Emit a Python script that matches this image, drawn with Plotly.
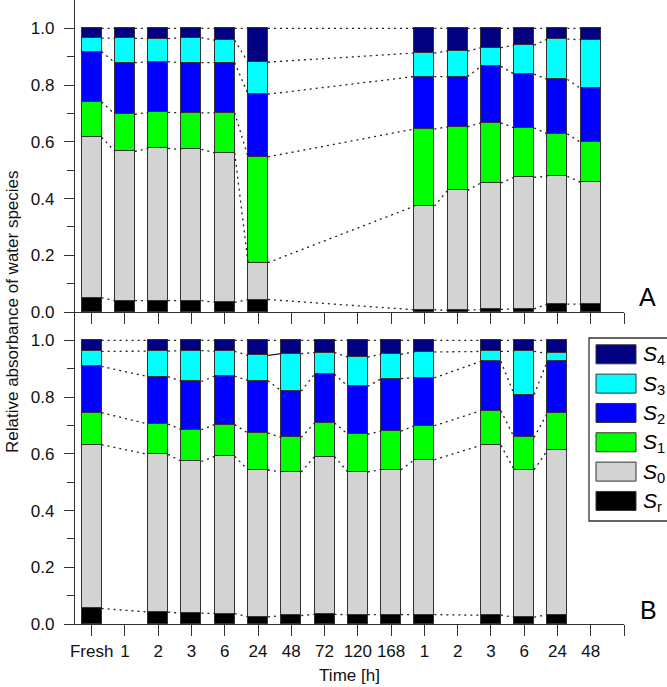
import plotly.graph_objects as go

# ---------------- data ----------------
categories = ["Fresh", "1", "2", "3", "6", "24", "48", "72", "120", "168",
              "1", "2", "3", "6", "24", "48"]
species_labels = ["<i>S</i><sub>r</sub>", "<i>S</i><sub>0</sub>", "<i>S</i><sub>1</sub>",
                  "<i>S</i><sub>2</sub>", "<i>S</i><sub>3</sub>", "<i>S</i><sub>4</sub>"]
species_colors = ["#000000", "#D3D3D3", "#00FF00", "#0000FF", "#00FFFF", "#000080"]

# Panel A (positions are indices into categories)
a_pos = [0, 1, 2, 3, 4, 5, 10, 11, 12, 13, 14, 15]
a_Sr = [0.050, 0.040, 0.040, 0.040, 0.034, 0.044, 0.008, 0.006, 0.009, 0.011, 0.028, 0.028]
a_S0 = [0.566, 0.526, 0.537, 0.533, 0.527, 0.130, 0.365, 0.423, 0.446, 0.464, 0.450, 0.429]
a_S1 = [0.125, 0.131, 0.127, 0.129, 0.141, 0.373, 0.272, 0.224, 0.212, 0.174, 0.150, 0.141]
a_S2 = [0.177, 0.182, 0.178, 0.177, 0.177, 0.221, 0.185, 0.177, 0.199, 0.190, 0.192, 0.190]
a_S3 = [0.048, 0.086, 0.082, 0.088, 0.079, 0.113, 0.083, 0.090, 0.066, 0.102, 0.142, 0.172]
a_S4 = [0.034, 0.035, 0.036, 0.033, 0.042, 0.119, 0.087, 0.080, 0.068, 0.059, 0.038, 0.040]

# Panel B
b_pos = [0, 2, 3, 4, 5, 6, 7, 8, 9, 10, 12, 13, 14]
b_Sr = [0.055, 0.042, 0.038, 0.037, 0.025, 0.030, 0.034, 0.033, 0.033, 0.033, 0.031, 0.024, 0.033]
b_S0 = [0.577, 0.556, 0.535, 0.554, 0.518, 0.506, 0.556, 0.503, 0.511, 0.546, 0.599, 0.520, 0.580]
b_S1 = [0.113, 0.107, 0.112, 0.112, 0.130, 0.122, 0.119, 0.133, 0.136, 0.120, 0.122, 0.114, 0.131]
b_S2 = [0.163, 0.167, 0.170, 0.171, 0.185, 0.163, 0.172, 0.169, 0.185, 0.169, 0.174, 0.151, 0.184]
b_S3 = [0.053, 0.090, 0.109, 0.087, 0.089, 0.132, 0.076, 0.103, 0.086, 0.091, 0.035, 0.152, 0.026]
b_S4 = [0.039, 0.038, 0.036, 0.039, 0.053, 0.047, 0.043, 0.059, 0.049, 0.041, 0.039, 0.039, 0.046]
# connector drawn solid in panel B: (index of left bar in b_pos, boundary level)
b_solid_links = [(4, 4)]

panels = [
    dict(pos=a_pos, series=[a_Sr, a_S0, a_S1, a_S2, a_S3, a_S4], xa="x2", ya="y2", solid=[]),
    dict(pos=b_pos, series=[b_Sr, b_S0, b_S1, b_S2, b_S3, b_S4], xa="x", ya="y", solid=b_solid_links),
]

BAR_W = 0.6
FONT = "Liberation Sans, Arial, sans-serif"

fig = go.Figure()

for p in panels:
    for k, vals in enumerate(p["series"]):
        fig.add_trace(go.Bar(
            x=p["pos"], y=vals, width=BAR_W,
            marker=dict(color=species_colors[k], line=dict(color="#333333", width=1)),
            xaxis=p["xa"], yaxis=p["ya"], showlegend=False, name=species_labels[k]))
    # cumulative boundaries
    n = len(p["pos"])
    cum = []
    for i in range(n):
        s = 0.0
        row = []
        for vals in p["series"]:
            s += vals[i]
            row.append(s)
        cum.append(row)
    dx, dy, sx, sy = [], [], [], []
    for i in range(n - 1):
        x0 = p["pos"][i] + BAR_W / 2
        x1 = p["pos"][i + 1] - BAR_W / 2
        for lev in range(6):
            if (i, lev) in p["solid"]:
                sx += [x0, x1, None]
                sy += [cum[i][lev], cum[i + 1][lev], None]
            else:
                dx += [x0, x1, None]
                dy += [cum[i][lev], cum[i + 1][lev], None]
    fig.add_trace(go.Scatter(x=dx, y=dy, mode="lines", xaxis=p["xa"], yaxis=p["ya"],
                             line=dict(color="#222222", width=1.3, dash="2px,4px"),
                             showlegend=False, hoverinfo="skip"))
    if sx:
        fig.add_trace(go.Scatter(x=sx, y=sy, mode="lines", xaxis=p["xa"], yaxis=p["ya"],
                                 line=dict(color="#222222", width=1.2),
                                 showlegend=False, hoverinfo="skip"))

# ---------------- layout ----------------
W, H = 667, 687
L, R, T, B = 75, 43, 0, 63
PW, PH = W - L - R, H - T - B


def px_x(px):
    return (px - L) / PW


def px_y(py):
    return (H - B - py) / PH


tickvals = list(range(len(categories) + 1))
ticktext = categories + [""]

xcommon = dict(range=[-0.5, len(categories)], tickvals=tickvals, ticktext=ticktext,
               ticks="outside", ticklen=11, tickwidth=1.2, tickcolor="#333333",
               showline=True, linecolor="#333333", linewidth=1.3, showgrid=False,
               zeroline=False, automargin=False, tickangle=0,
               tickfont=dict(family=FONT, size=17, color="#111111"))
ycommon = dict(range=[0, 1.1], tickvals=[0, 0.2, 0.4, 0.6, 0.8, 1.0], tickformat=".1f",
               ticks="outside", ticklen=10, tickwidth=1.2, tickcolor="#333333",
               minor=dict(tickvals=[0.1, 0.3, 0.5, 0.7, 0.9], ticks="outside", ticklen=7,
                          tickwidth=1.2, tickcolor="#333333"),
               showline=True, linecolor="#333333", linewidth=1.3, showgrid=False,
               zeroline=False, ticklabelstandoff=6, automargin=False,
               tickfont=dict(family=FONT, size=17, color="#111111"))

fig.update_layout(
    width=W, height=H, margin=dict(l=L, r=R, t=T, b=B, pad=0, autoexpand=False),
    paper_bgcolor="white", plot_bgcolor="white", barmode="stack", bargap=0,
    showlegend=False,
    xaxis=dict(anchor="y", domain=[0, 1], ticklabelstandoff=0,
               title=dict(text="Time [h]", standoff=9,
                          font=dict(family=FONT, size=17, color="#111111")), **xcommon),
    xaxis2=dict(anchor="y2", domain=[0, 1], matches="x", showticklabels=False, **xcommon),
    yaxis=dict(anchor="x", domain=[0, 0.5], **ycommon),
    yaxis2=dict(anchor="x2", domain=[0.5, 1], **ycommon),
)

ann = []
ann.append(dict(text="Relative absorbance of water species", xref="paper", yref="paper",
                x=px_x(12), y=px_y(312), textangle=-90, showarrow=False,
                xanchor="center", yanchor="middle",
                font=dict(family=FONT, size=17, color="#111111")))
ann.append(dict(text="A", xref="paper", yref="paper", x=px_x(647), y=px_y(297),
                showarrow=False, xanchor="center", yanchor="middle",
                font=dict(family=FONT, size=25, color="#000000")))
ann.append(dict(text="B", xref="paper", yref="paper", x=px_x(648), y=px_y(610),
                showarrow=False, xanchor="center", yanchor="middle",
                font=dict(family=FONT, size=25, color="#000000")))

# custom legend (top entry S4 down to Sr)
shapes = [dict(type="rect", xref="paper", yref="paper", x0=px_x(589), x1=px_x(668),
               y0=px_y(521), y1=px_y(338), line=dict(color="#333333", width=1.3),
               fillcolor="white", layer="above")]
for row, k in enumerate(range(5, -1, -1)):
    cy = 354.3 + row * 29.33
    shapes.append(dict(type="rect", xref="paper", yref="paper", x0=px_x(596), x1=px_x(636),
                       y0=px_y(cy + 9.5), y1=px_y(cy - 9.5),
                       line=dict(color="#333333", width=1), fillcolor=species_colors[k],
                       layer="above"))
    ann.append(dict(text=species_labels[k], xref="paper", yref="paper", x=px_x(641),
                    y=px_y(cy + 1), showarrow=False, xanchor="left", yanchor="middle",
                    font=dict(family=FONT, size=21, color="#000000")))

fig.update_layout(annotations=ann, shapes=shapes)

fig.write_html("out.html", config={"displayModeBar": False},
               post_script="document.body.style.margin='0';document.body.style.padding='0';")
